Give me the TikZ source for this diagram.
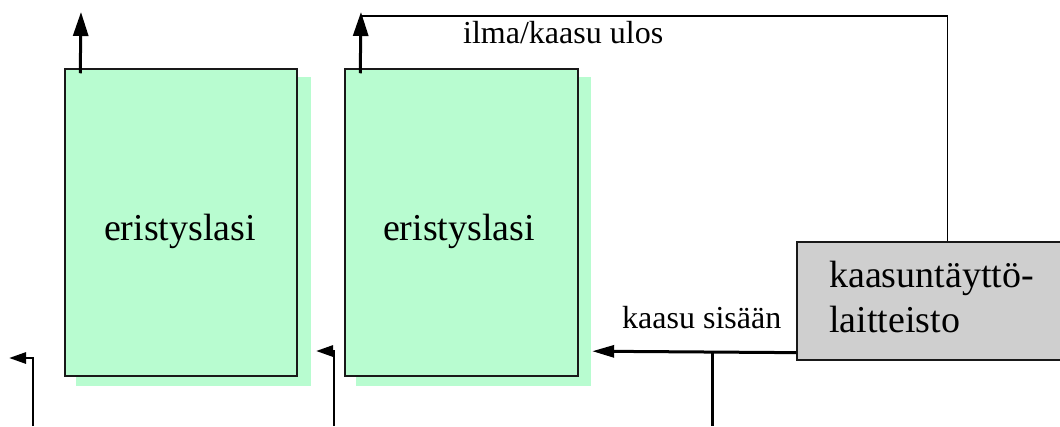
\documentclass[tikz,border=0pt]{standalone}
\usepackage{fontspec}
\setmainfont{Liberation Serif}
\usetikzlibrary{arrows.meta,calc}
\definecolor{glass}{HTML}{B8FCD0}
\definecolor{unit}{HTML}{CFCFCF}
\begin{document}
\begin{tikzpicture}[x=1pt,y=-1pt,
  glassbox/.style={draw=black!90, line width=1.5pt, fill=glass, minimum width=232pt, minimum height=307pt, inner sep=0pt},
  shadowbox/.style={fill=glass, draw=none, minimum width=235pt, minimum height=309pt, inner sep=0pt},
  unitbox/.style={draw=black!90, line width=1.3pt, fill=unit, minimum width=267pt, minimum height=118pt, inner sep=0pt},
  bigtext/.style={font=\fontsize{38}{45}\selectfont, inner sep=0pt, anchor=base},
  labeltext/.style={font=\fontsize{32}{38}\selectfont, inner sep=0pt, anchor=base west},
  uparrow/.style={line width=3pt, -{Triangle[length=24pt,width=15pt]}},
  inarrow/.style={line width=3pt, -{Triangle[length=22pt,width=12pt]}},
  sidearrow/.style={line width=2.8pt, -{Triangle[length=17pt,width=11pt]}},
  thinline/.style={line width=1.4pt},
  feedline/.style={line width=3pt}
]
\useasboundingbox (0,0) rectangle (1060,426);

% shadows and glass boxes
\node[shadowbox] (sh1) at (193.5,231.5) {};
\node[shadowbox] (sh2) at (473.5,231.5) {};
\node[glassbox] (g1) at (181,222.5) {};
\node[glassbox, minimum width=233pt] (g2) at (461.5,222.5) {};
\node[bigtext] (t1) at (180,240) {eristyslasi};
\node[bigtext] (t2) at (459,240) {eristyslasi};

% gas filling unit
\node[unitbox] (u) at (930.5,301) {};
\node[bigtext, anchor=base west] (u1) at (829,287) {kaasuntäyttö-};
\node[bigtext, anchor=base west] (u2) at (829,332) {laitteisto};

% labels
\node[labeltext] (lout) at (463,43) {ilma/kaasu ulos};
\node[labeltext] (lin) at (622,328) {kaasu sisään};

% outlet arrows
\coordinate (o1s) at ($(g1.north west)+(16,5)$);
\coordinate (o1e) at (81,12);
\coordinate (o2s) at ($(g2.north west)+(16,5)$);
\coordinate (o2e) at (361,12);
\draw[uparrow] (o1s) -- (o1e);
\draw[uparrow] (o2s) -- (o2e);

% return line to unit
\coordinate (r0) at (361,16);
\coordinate (r1) at ($(u.north west)+(151,0)$);
\draw[thinline] (r0) -| (r1);

% gas in
\coordinate (ins) at ($(u.south west)+(0,-8)$);
\coordinate (ine) at ($(sh2.south east)+(1,-35)$);
\draw[inarrow] (ins) -- (ine);
\coordinate (j) at (712,352);
\coordinate (jb) at (712,426);
\draw[feedline] (j) -- (jb);

% side arrows at left
\coordinate (a1s) at (33,426);
\coordinate (a1e) at (9,358);
\draw[sidearrow] (a1s) |- (a1e);
\coordinate (a2s) at (334,426);
\coordinate (a2e) at (316,351);
\draw[sidearrow] (a2s) |- (a2e);
\end{tikzpicture}
\end{document}
